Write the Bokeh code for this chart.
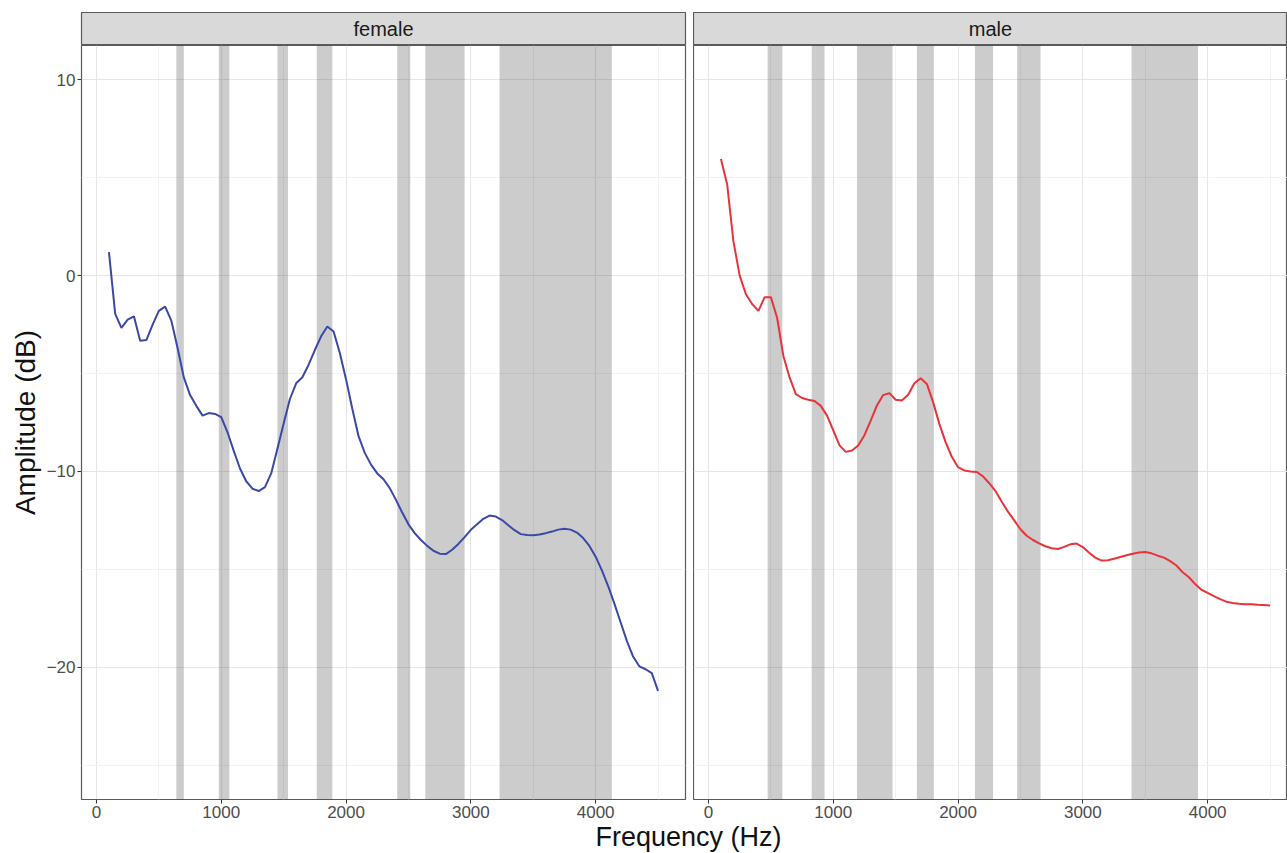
from bokeh.plotting import figure
from bokeh.models import Range1d, FixedTicker, BoxAnnotation, Grid
from bokeh.layouts import column, row
from bokeh.embed import file_html
from bokeh.resources import INLINE
from bokeh.core.properties import value

# ---------------- data ----------------
freq = list(range(100, 4501, 50))

female_db = [1.2, -1.95, -2.67, -2.25, -2.08, -3.32, -3.29, -2.5, -1.8, -1.58,
             -2.3, -3.7, -5.2, -6.1, -6.65, -7.15, -7.02, -7.06, -7.23, -8.0,
             -8.95, -9.85, -10.5, -10.88, -11.0, -10.8, -10.1, -8.84, -7.55, -6.3,
             -5.5, -5.19, -4.55, -3.8, -3.1, -2.6, -2.85, -3.95, -5.3, -6.8,
             -8.2, -9.05, -9.65, -10.1, -10.4, -10.85, -11.45, -12.1, -12.7, -13.15,
             -13.5, -13.8, -14.05, -14.2, -14.22, -14.0, -13.7, -13.35, -12.98, -12.7,
             -12.42, -12.25, -12.3, -12.48, -12.75, -13.0, -13.2, -13.25, -13.26, -13.22,
             -13.15, -13.07, -12.97, -12.93, -12.97, -13.12, -13.4, -13.8, -14.35, -15.05,
             -15.85, -16.75, -17.7, -18.65, -19.45, -19.95, -20.1, -20.3, -21.2]

male_db = [5.95, 4.65, 1.75, 0.0, -0.95, -1.45, -1.8, -1.1, -1.1, -2.15,
           -4.1, -5.2, -6.05, -6.25, -6.34, -6.4, -6.65, -7.15, -7.9, -8.67,
           -9.0, -8.93, -8.67, -8.15, -7.4, -6.63, -6.1, -6.0, -6.34, -6.38,
           -6.08, -5.5, -5.24, -5.53, -6.46, -7.57, -8.5, -9.25, -9.78, -9.95,
           -10.0, -10.03, -10.25, -10.6, -11.0, -11.55, -12.05, -12.5, -12.95, -13.28,
           -13.5, -13.67, -13.82, -13.92, -13.96, -13.85, -13.72, -13.68, -13.86, -14.15,
           -14.4, -14.55, -14.53, -14.46, -14.37, -14.28, -14.2, -14.14, -14.11, -14.18,
           -14.3, -14.4, -14.58, -14.8, -15.15, -15.4, -15.75, -16.04, -16.2, -16.37,
           -16.52, -16.65, -16.72, -16.76, -16.78, -16.78, -16.81, -16.82, -16.84]

female_band_start = [640, 980, 1450, 1765, 2410, 2635, 3230]
female_band_end = [700, 1065, 1535, 1890, 2515, 2950, 4130]
male_band_start = [474, 827, 1190, 1670, 2135, 2473, 3390]
male_band_end = [592, 930, 1475, 1806, 2280, 2661, 3923]

facets = ["female", "male"]
x_ticks = [0, 1000, 2000, 3000, 4000]
x_minor = [500, 1500, 2500, 3500, 4500]
y_ticks = [-20, -10, 0, 10]
y_minor = [-25, -15, -5, 5]
y_tick_labels = {-20: "\u221220", -10: "\u221210", 0: "0", 10: "10"}
x_title = "Frequency (Hz)"
y_title = "Amplitude (dB)"

# ---------------- style ----------------
FONT = "Liberation Sans"
BORDER = "#5a5a5a"
MAJOR_GRID = "#e6e6e6"
MINOR_GRID = "#f2f2f2"
Y_RANGE = (-26.75, 11.75)
FRAME_H = 754
F_FRAME_W = 604
M_FRAME_W = 594
LEFT = 81
GAP = 8


def style_common(p):
    p.background_fill_color = "white"
    p.border_fill_color = "white"
    p.outline_line_color = BORDER
    p.outline_line_width = 1.2


def make_panel(db, bstart, bend, color, frame_w, left, right, x_end, with_y):
    p = figure(frame_width=frame_w, frame_height=FRAME_H,
               x_range=Range1d(-120, x_end), y_range=Range1d(*Y_RANGE),
               toolbar_location=None, output_backend="svg",
               min_border_left=left, min_border_right=right,
               min_border_top=0, min_border_bottom=0,
               y_axis_location="left" if with_y else None)
    style_common(p)
    xt = FixedTicker(ticks=x_ticks, minor_ticks=x_minor)
    yt = FixedTicker(ticks=y_ticks, minor_ticks=y_minor)
    p.xaxis.ticker = xt
    for g in p.xgrid:
        g.ticker = xt
    if len(p.ygrid) == 0:
        p.add_layout(Grid(dimension=1, ticker=yt))
    for g in p.ygrid:
        g.ticker = yt
    for g in list(p.xgrid) + list(p.ygrid):
        g.grid_line_color = MAJOR_GRID
        g.grid_line_width = 1.1
        g.minor_grid_line_color = MINOR_GRID
        g.minor_grid_line_width = 1.0

    axes = list(p.xaxis) + (list(p.yaxis) if with_y else [])
    for ax in axes:
        ax.axis_line_color = None
        ax.major_tick_line_color = "#333333"
        ax.major_tick_out = 4
        ax.major_tick_in = 0
        ax.minor_tick_line_color = None
        ax.major_label_text_font = FONT
        ax.major_label_text_font_size = "17px"
        ax.major_label_text_color = "#4d4d4d"
    p.xaxis.major_label_standoff = 2
    if with_y:
        p.yaxis.ticker = yt
        p.yaxis.major_label_overrides = y_tick_labels
        p.yaxis.major_label_standoff = 2
        p.yaxis.axis_label = y_title
        p.yaxis.axis_label_text_font = FONT
        p.yaxis.axis_label_text_font_size = "28px"
        p.yaxis.axis_label_text_font_style = "normal"
        p.yaxis.axis_label_text_color = "#111111"
        p.yaxis.axis_label_standoff = 3

    for s, e in zip(bstart, bend):
        p.add_layout(BoxAnnotation(left=s, right=e, fill_color="black", fill_alpha=0.2,
                                   line_color=None, level="underlay"))
    p.line(freq, db, line_color=color, line_width=2)
    return p


def make_strip(text, frame_w, left, right):
    s = figure(frame_width=frame_w, frame_height=33,
               x_range=Range1d(0, 1), y_range=Range1d(0, 1),
               toolbar_location=None, output_backend="svg",
               x_axis_location=None, y_axis_location=None,
               min_border_left=left, min_border_right=right,
               min_border_top=12, min_border_bottom=0)
    s.grid.visible = False
    s.background_fill_color = "#d9d9d9"
    s.border_fill_color = "white"
    s.outline_line_color = BORDER
    s.outline_line_width = 1.2
    s.text(x=[0.5], y=[0.5], text=[text], text_align="center", text_baseline="middle",
           text_font=value(FONT), text_font_size="20px", text_color="#1a1a1a")
    return s


female_x_end = 4720
male_x_end = -120 + (4720 + 120) * M_FRAME_W / F_FRAME_W

p_f = make_panel(female_db, female_band_start, female_band_end, "#3a48a8",
                 F_FRAME_W, LEFT, GAP, female_x_end, True)
p_m = make_panel(male_db, male_band_start, male_band_end, "#e8333a",
                 M_FRAME_W, 0, 0, male_x_end, False)

s_f = make_strip(facets[0], F_FRAME_W, LEFT, GAP)
s_m = make_strip(facets[1], M_FRAME_W, 0, 0)

TOTAL_W = LEFT + F_FRAME_W + GAP + M_FRAME_W
T_H = 33
t = figure(frame_width=TOTAL_W, frame_height=T_H,
           x_range=Range1d(0, TOTAL_W), y_range=Range1d(0, T_H),
           toolbar_location=None, output_backend="svg",
           x_axis_location=None, y_axis_location=None,
           min_border_left=0, min_border_right=0, min_border_top=0, min_border_bottom=0)
t.grid.visible = False
t.outline_line_color = None
t.background_fill_color = "white"
t.border_fill_color = "white"
t.text(x=[688], y=[T_H - 1], text=[x_title], text_align="center", text_baseline="top",
       text_font=value(FONT), text_font_size="27px", text_color="#111111")

layout = column(row(s_f, s_m), row(p_f, p_m), t)

open("out.html", "w").write(file_html(layout, INLINE))
